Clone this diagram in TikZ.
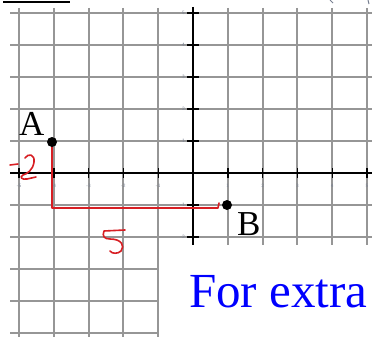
\documentclass[tikz,border=0pt]{standalone}
\usepackage{fontspec}
\setmainfont{Liberation Serif}
\definecolor{gridgray}{RGB}{150,150,150}
\definecolor{ticktext}{RGB}{120,128,145}
\definecolor{penred}{RGB}{215,30,35}
\definecolor{textblue}{RGB}{0,0,255}
\begin{document}
\begin{tikzpicture}[x=1pt,y=-1pt,
  gridline/.style={draw=gridgray, line width=1.9pt},
  axisline/.style={draw=black, line width=2.4pt},
  tickmark/.style={draw=black, line width=1.4pt},
  handred/.style={draw=penred, line width=1.6pt, line cap=round, line join=round},
  ticklab/.style={font=\fontsize{5}{5}\selectfont\sffamily, text=ticktext, inner sep=0pt},
  ptlabel/.style={font=\fontsize{35}{35}\selectfont, inner sep=0pt, anchor=base west},
  dot/.style={fill=black}]
\useasboundingbox (0,0) rectangle (372,337);
\clip (0,0) rectangle (372,337);
\fill[white] (0,0) rectangle (372,337);
% grid
\foreach \i in {-5,...,5} { \draw[gridline] ({193+34.8*\i},8) -- ({193+34.8*\i},340); }
\foreach \j in {-5,...,5} { \draw[gridline] (10,{173-32*\j}) -- (375,{173-32*\j}); }
% axes
\draw[axisline] (10,173) -- (375,173);
\draw[axisline] (193,7) -- (193,245);
\foreach \i in {-5,...,-1,1,2,3,4,5} {
  \draw[tickmark] ({193+34.8*\i},168) -- ({193+34.8*\i},178);
  \node[ticklab] at ({193+34.8*\i},186) {\i};
}
\foreach \j in {5,4,3,2,1,-1,-2} {
  \draw[tickmark] (187,{173-32*\j}) -- (199,{173-32*\j});
  \node[ticklab, anchor=east] at (185,{173-32*\j}) {\j};
}
% white box with text
\fill[white] (159,245) rectangle (380,340);
\node[font=\fontsize{49}{49}\selectfont, text=textblue, inner sep=0pt, anchor=base west] (extra) at (189,307) {For extra};
% top fragments
\draw[black, line width=1.2pt] (3,2) -- (70,2);
\draw[ticktext, line width=1pt] (330,0) -- (333,3);
\draw[ticktext, line width=1pt] (368,0) -- (369,4);
% red handwriting
\coordinate (A) at (52,142);
\coordinate (B) at (227,205);
\coordinate (corner) at (52,208);
\coordinate (hookend) at (218,208);
\coordinate (hooktop) at (219,203);
\draw[handred] (A) -- (corner) -- (hookend) -- (hooktop);
\draw[handred] (10,165) -- (18,164);
\draw[handred] (25,158) .. controls (28,153) and (35,154) .. (34,162) .. controls (33,170) and (27,174) .. (23,175) .. controls (19,177) and (22,180) .. (27,179) -- (36,177);
\draw[handred] (125,230) -- (104,231) .. controls (102,236) and (104,239) .. (110,239) .. controls (122,239) and (125,246) .. (121,251) .. controls (118,254) and (112,254) .. (110,251);
% points
\fill[dot] (A) circle (5);
\fill[dot] (B) circle (5);
\node[ptlabel] (labA) at (19,135) {A};
\node[ptlabel] (labB) at (237,235) {B};
\end{tikzpicture}
\end{document}
